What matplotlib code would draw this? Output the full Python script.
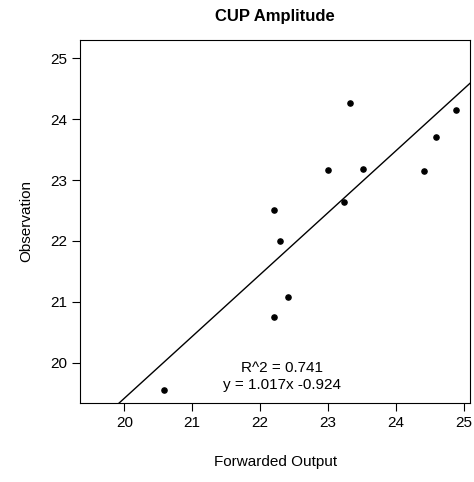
import matplotlib
matplotlib.use("Agg")
import matplotlib.pyplot as plt
import numpy as np

forwarded = [23.32, 24.88, 24.59, 23.00, 23.51, 24.41, 23.24, 22.21, 22.29, 22.41, 22.21, 20.59]
observed = [24.26, 24.15, 23.70, 23.16, 23.18, 23.15, 22.64, 22.51, 22.00, 21.08, 20.75, 19.56]
slope, intercept = 1.017, -0.924
r2 = 0.741

plt.rcParams['font.family'] = ['Liberation Sans', 'DejaVu Sans']
fig = plt.figure(figsize=(4.74, 4.82), dpi=100)
ax = fig.add_axes([0.169, 0.164, 0.823, 0.753])

ax.scatter(forwarded, observed, s=14, color='black', zorder=3)
xs = np.array([19.0, 26.0])
ax.plot(xs, slope * xs + intercept, color='black', lw=1)

ax.set_xlim(19.35, 25.09)
ax.set_ylim(19.34, 25.30)
ax.set_xticks([20, 21, 22, 23, 24, 25])
ax.set_yticks([20, 21, 22, 23, 24, 25])
ax.tick_params(direction='out', length=6, labelsize=11)
ax.set_xlabel("Forwarded Output", fontsize=11, labelpad=18)
ax.set_ylabel("Observation", fontsize=11, labelpad=12)
ax.set_title("CUP Amplitude", fontsize=12, fontweight='bold', pad=14)

ax.text(22.32, 19.92, f"R^2 = {r2:.3f}", ha='center', va='center', fontsize=11)
ax.text(22.32, 19.64, f"y = {slope:.3f}x {intercept:.3f}", ha='center', va='center', fontsize=11)

fig.savefig("out.png", dpi=100)
